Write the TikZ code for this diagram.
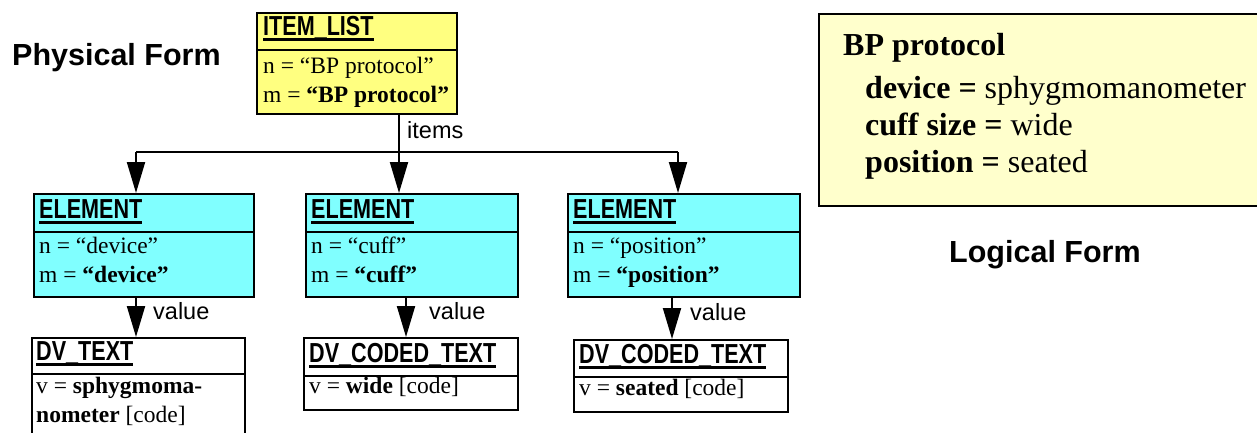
\documentclass[tikz,border=0pt]{standalone}
\usepackage{fontspec}
\setmainfont{Liberation Serif}
\setsansfont{Liberation Sans}
\newfontfamily\hdrfont[FakeStretch=0.785]{Liberation Sans Bold}
\usetikzlibrary{arrows.meta}
\definecolor{ylw}{HTML}{FFFF80}
\definecolor{cyn}{HTML}{80FFFF}
\definecolor{pale}{HTML}{FFFFCC}
\newsavebox\hdrbx
\newcommand\hdrul[1]{\sbox\hdrbx{#1}\rlap{\rule[-0.2em]{\wd\hdrbx}{0.1em}}\usebox\hdrbx}
\begin{document}
\begin{tikzpicture}[x=1pt,y=-1pt,
 box/.style={draw, line width=1.6pt, anchor=north west, inner sep=0pt},
 sep/.style={line width=1.6pt},
 hdr/.style={font=\hdrfont\fontsize{27.5}{31}\selectfont, anchor=base west, inner sep=0pt},
 body/.style={font=\fontsize{23.5}{26}\selectfont, anchor=base west, inner sep=0pt},
 lbl/.style={font=\sffamily\fontsize{23.5}{26}\selectfont, anchor=base west, inner sep=0pt},
 ttl/.style={font=\sffamily\bfseries\fontsize{30.5}{34}\selectfont, anchor=base west, inner sep=0pt},
 logic/.style={font=\fontsize{32}{36}\selectfont, anchor=base west, inner sep=0pt},
 conn/.style={line width=2pt},
 arr/.style={conn, -{Triangle[length=31pt,width=18pt]}},
]
\useasboundingbox (0,0) rectangle (1257,432);

% titles
\node[ttl] (pf) at (12,65) {Physical Form};
\node[ttl] (lfl) at (949,262) {Logical Form};

% logical form box
\node[box, fill=pale, line width=2pt, minimum width=445pt, minimum height=192pt] (lf) at (818,13) {};
\node[logic] (lf0) at (843,55) {\textbf{BP protocol}};
\node[logic] (lf1) at (865,98) {\textbf{device =} sphygmomanometer};
\node[logic] (lf2) at (865,135) {\textbf{cuff size =} wide};
\node[logic] (lf3) at (865,172) {\textbf{position =} seated};

% ITEM_LIST
\node[box, fill=ylw, minimum width=200pt, minimum height=101pt] (il) at (256,12) {};
\draw[sep] (il.west |- 0,50) -- (il.east |- 0,50);
\node[hdr] (ilh) at (263,35) {\hdrul{ITEM\_LIST}};
\node[body] (iln) at (263,73) {n = “BP protocol”};
\node[body] (ilm) at (263,102) {m = \textbf{“BP protocol”}};

% ELEMENTs
\node[box, fill=cyn, minimum width=220pt, minimum height=103pt] (e1) at (33,193) {};
\draw[sep] (e1.west |- 0,232) -- (e1.east |- 0,232);
\node[hdr] (e1h) at (39,218) {\hdrul{ELEMENT}};
\node[body] (e1n) at (39,253) {n = “device”};
\node[body] (e1m) at (39,282) {m = \textbf{“device”}};

\node[box, fill=cyn, minimum width=212pt, minimum height=103pt] (e2) at (305,193) {};
\draw[sep] (e2.west |- 0,232) -- (e2.east |- 0,232);
\node[hdr] (e2h) at (311,218) {\hdrul{ELEMENT}};
\node[body] (e2n) at (311,253) {n = “cuff”};
\node[body] (e2m) at (311,282) {m = \textbf{“cuff”}};

\node[box, fill=cyn, minimum width=232pt, minimum height=103pt] (e3) at (567,193) {};
\draw[sep] (e3.west |- 0,232) -- (e3.east |- 0,232);
\node[hdr] (e3h) at (573,218) {\hdrul{ELEMENT}};
\node[body] (e3n) at (573,253) {n = “position”};
\node[body] (e3m) at (573,282) {m = \textbf{“position”}};

% DV boxes
\node[box, fill=white, minimum width=213pt, minimum height=96pt] (d1) at (31,337) {};
\draw[sep] (d1.west |- 0,374) -- (d1.east |- 0,374);
\node[hdr] (d1h) at (36,360) {\hdrul{DV\_TEXT}};
\node[body] (d1a) at (36,393) {v = \textbf{sphygmoma-}};
\node[body] (d1b) at (36,422) {\textbf{nometer} [code]};

\node[box, fill=white, minimum width=214pt, minimum height=72pt] (d2) at (303,337) {};
\draw[sep] (d2.west |- 0,376) -- (d2.east |- 0,376);
\node[hdr] (d2h) at (309,362) {\hdrul{DV\_CODED\_TEXT}};
\node[body] (d2a) at (309,393) {v = \textbf{wide} [code]};

\node[box, fill=white, minimum width=214pt, minimum height=72pt] (d3) at (573,339) {};
\draw[sep] (d3.west |- 0,377) -- (d3.east |- 0,377);
\node[hdr] (d3h) at (579,363) {\hdrul{DV\_CODED\_TEXT}};
\node[body] (d3a) at (579,395) {v = \textbf{seated} [code]};

% connectors
\coordinate (j) at (399,152);
\coordinate (l1) at (136,152);
\coordinate (r1) at (678,152);
\draw[conn] (il.south -| j) -- (j);
\draw[conn] (l1) -- (r1);
\draw[arr] (l1) -- (l1 |- e1.north);
\draw[arr] (j) -- (j |- e2.north);
\draw[arr] (r1) -- (r1 |- e3.north);
\node[lbl] (items) at (407,138) {items};

\coordinate (v1) at (136,0);
\coordinate (v2) at (406,0);
\coordinate (v3) at (672,0);
\draw[arr] (e1.south -| v1) -- (d1.north -| v1);
\draw[arr] (e2.south -| v2) -- (d2.north -| v2);
\draw[arr] (e3.south -| v3) -- (d3.north -| v3);
\node[lbl] (val1) at (153,319) {value};
\node[lbl] (val2) at (429,319) {value};
\node[lbl] (val3) at (690,320) {value};
\end{tikzpicture}
\end{document}
